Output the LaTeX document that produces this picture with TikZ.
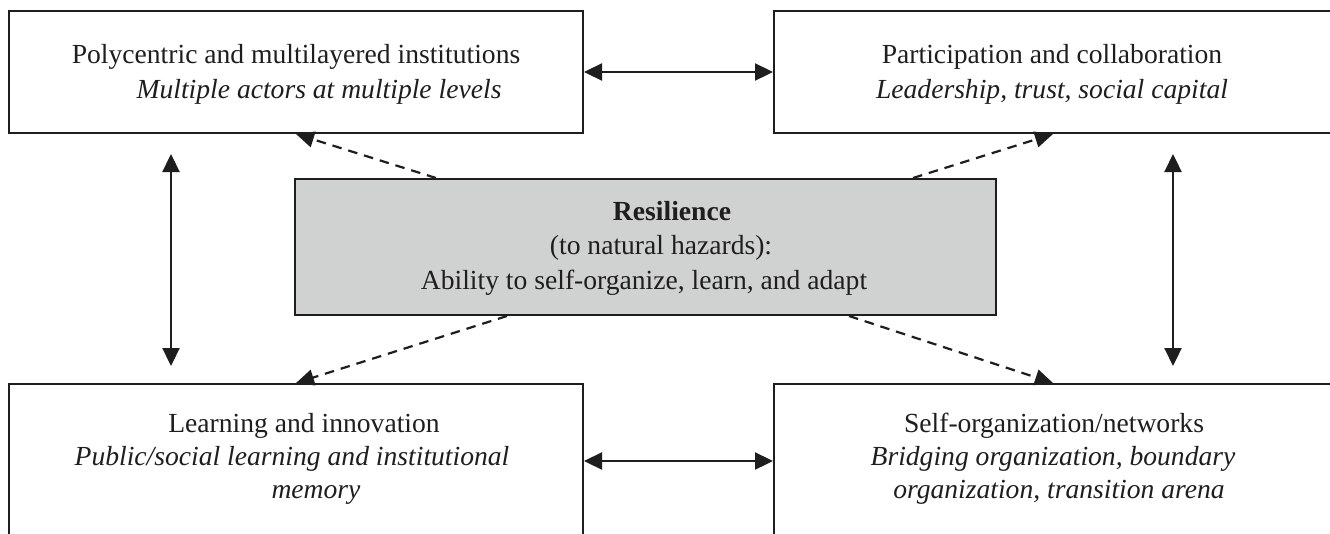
\documentclass[tikz,border=0pt]{standalone}
\usepackage{fontspec}
\setmainfont{Liberation Serif}
\usetikzlibrary{arrows.meta}
\definecolor{ink}{RGB}{30,30,30}
\definecolor{panel}{RGB}{208,209,209}

\begin{document}
\begin{tikzpicture}[x=1pt,y=-1pt,
  box/.style={draw=ink, line width=2pt, rectangle, inner sep=0pt},
  txt/.style={anchor=base, inner sep=0pt, font=\fontsize{27.6}{34}\selectfont, text=ink},
  link/.style={draw=ink, line width=2.3pt,
    {Triangle[length=18pt,width=17pt]}-{Triangle[length=18pt,width=17pt]}},
  cue/.style={draw=ink, line width=2.2pt, dash pattern=on 9.5pt off 7pt,
    -{Triangle[length=18pt,width=16pt]}}]

\useasboundingbox (0,0) rectangle (1330,533);

% the four outer boxes and the central shaded box
\node[box, minimum width=574pt, minimum height=122pt] (tl) at (296,72) {};
\node[box, minimum width=558pt, minimum height=122pt] (tr) at (1053,72) {};
\node[box, minimum width=574pt, minimum height=176pt] (bl) at (296,472) {};
\node[box, minimum width=558pt, minimum height=176pt] (br) at (1053,472) {};
\node[box, fill=panel, minimum width=701pt, minimum height=136pt] (g) at (645.5,247) {};

% box texts
\node[txt] (tl1) at (296,63) {Polycentric and multilayered institutions};
\node[txt] (tl2) at (319,98) {\itshape Multiple actors at multiple levels};

\node[txt] (tr1) at (1052,63) {Participation and collaboration};
\node[txt] (tr2) at (1052,98) {\itshape Leadership, trust, social capital};

\node[txt] (g1) at (672,220) {\bfseries Resilience};
\node[txt] (g2) at (661,254) {(to natural hazards):};
\node[txt] (g3) at (644,289) {Ability to self-organize, learn, and adapt};

\node[txt] (bl1) at (304,432) {Learning and innovation};
\node[txt] (bl2) at (292,465) {\itshape Public/social learning and institutional};
\node[txt] (bl3) at (316,498) {\itshape memory};

\node[txt] (br1) at (1054,432) {Self-organization/networks};
\node[txt] (br2) at (1053,465) {\itshape Bridging organization, boundary};
\node[txt] (br3) at (1059,498) {\itshape organization, transition arena};

% two-way links between the outer boxes
\draw[link] (tl) -- (tr);
\draw[link] ([yshift=-78pt]bl.north east) -- ([yshift=-78pt]br.north west);
\draw[link] ([xshift=-125pt,yshift=-20pt]tl.south) -- ([xshift=-125pt,yshift=17pt]bl.north);
\draw[link] ([xshift=120pt,yshift=-20pt]tr.south) -- ([xshift=120pt,yshift=17pt]br.north);

% dashed links from the central box
\draw[cue] ([xshift=142pt]g.north west) -- (tl.south);
\draw[cue] ([xshift=-84pt]g.north east) -- (tr.south);
\draw[cue] ([xshift=213pt]g.south west) -- (bl.north);
\draw[cue] ([xshift=-148pt]g.south east) -- (br.north);
\end{tikzpicture}
\end{document}
